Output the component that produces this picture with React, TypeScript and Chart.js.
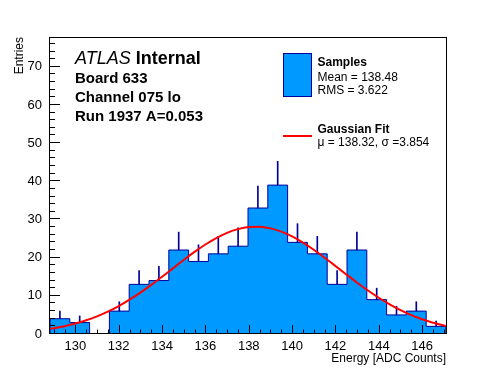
import React, { useEffect, useRef } from "react";
import { Chart, registerables } from "chart.js";

Chart.register(...registerables);

const FONT = "'Liberation Sans', Arial, Helvetica, sans-serif";

// Histogram definition (20 bins between xLow and xHigh)
const xLow = 128.83;
const xHigh = 147.1;
const nBins = 20;
const counts = [4, 3, 0, 6, 13, 14, 22, 19, 21, 23, 33, 39, 24, 21, 13, 22, 9, 5, 6, 2];

// Gaussian fit curve
const fitX = [
  128.83, 129, 129.5, 130, 130.5, 131, 131.5, 132, 132.5, 133, 133.5, 134, 134.5, 135, 135.5,
  136, 136.5, 137, 137.5, 138, 138.5, 139, 139.5, 140, 140.5, 141, 141.5, 142, 142.5, 143,
  143.5, 144, 144.5, 145, 145.5, 146, 146.5, 147, 147.1,
];
const fitY = [
  1.36, 1.51, 2.05, 2.73, 3.59, 4.63, 5.87, 7.32, 8.99, 10.84, 12.86, 14.99, 17.19, 19.39, 21.5,
  23.44, 25.14, 26.5, 27.47, 28.0, 28.07, 27.67, 26.81, 25.55, 23.95, 22.07, 19.99, 17.81, 15.6, 13.44,
  11.39, 9.49, 7.77, 6.26, 4.95, 3.86, 2.95, 2.22, 2.1,
];

// Axes
const yMax = 77.8;
const xMajorStep = 2;
const xMinorStep = 0.5;
const yMajorStep = 10;
const yMinorStep = 2;

// Texts
const xTitle = "Energy [ADC Counts]";
const yTitle = "Entries";
const atlasWord = "ATLAS";
const atlasStatus = "Internal";
const infoLines = ["Board 633", "Channel 075 lo", "Run 1937 A=0.053"];
const sampleTitle = "Samples";
const sampleStats = ["Mean = 138.48", "RMS = 3.622"];
const fitTitle = "Gaussian Fit";
const fitStats = "\u03bc = 138.32, \u03c3 =3.854";

const AZURE = "#0099ff";
const NAVY = "#000099";
const RED = "#ff0000";

const binWidth = (xHigh - xLow) / nBins;
const edges = Array.from({ length: nBins + 1 }, (_, i) => xLow + i * binWidth);

function histPoints() {
  const pts: { x: number; y: number }[] = [{ x: edges[0], y: 0 }];
  counts.forEach((c, i) => pts.push({ x: edges[i], y: c }));
  pts.push({ x: edges[nBins], y: counts[nBins - 1] });
  pts.push({ x: edges[nBins], y: 0 });
  return pts;
}

function errorBars() {
  const out: { x: number; y: [number, number] }[] = [];
  counts.forEach((c, i) => {
    if (c > 0) out.push({ x: edges[i] + binWidth / 2, y: [c, c + Math.sqrt(c)] });
  });
  return out;
}

const decorPlugin = {
  id: "rootDecor",
  afterDatasetsDraw(chart: any) {
    const { ctx, chartArea: a, scales } = chart;
    const xs = scales.x;
    const ys = scales.y;
    ctx.save();
    ctx.strokeStyle = "#000";
    ctx.lineWidth = 1;
    ctx.beginPath();
    // x ticks (inside frame)
    const kx0 = Math.ceil(xLow / xMinorStep - 1e-9);
    const kx1 = Math.floor(xHigh / xMinorStep + 1e-9);
    const perMajorX = Math.round(xMajorStep / xMinorStep);
    for (let k = kx0; k <= kx1; k++) {
      const v = k * xMinorStep;
      const px = Math.round(xs.getPixelForValue(v)) + 0.5;
      const len = k % perMajorX === 0 ? 9 : 4.5;
      ctx.moveTo(px, a.bottom);
      ctx.lineTo(px, a.bottom - len);
    }
    // y ticks
    const perMajorY = Math.round(yMajorStep / yMinorStep);
    for (let k = 0; k * yMinorStep <= yMax + 1e-9; k++) {
      const v = k * yMinorStep;
      const py = Math.round(ys.getPixelForValue(v)) - 0.5;
      const len = k % perMajorY === 0 ? 10 : 5;
      ctx.moveTo(a.left, py);
      ctx.lineTo(a.left + len, py);
    }
    ctx.stroke();
    // frame
    ctx.strokeRect(a.left - 0.5, a.top + 0.5, a.right - a.left + 1, a.bottom - a.top - 1);

    // ATLAS label
    ctx.fillStyle = "#000";
    ctx.textBaseline = "alphabetic";
    ctx.textAlign = "left";
    ctx.font = `italic 18px ${FONT}`;
    ctx.fillText(atlasWord, 75, 63.5);
    const w = ctx.measureText(atlasWord + " ").width;
    ctx.font = `bold 18px ${FONT}`;
    ctx.fillText(atlasStatus, 75 + w, 63.5);
    ctx.font = `bold 15px ${FONT}`;
    const infoBase = [82.5, 101.5, 120.5];
    infoLines.forEach((t, i) => ctx.fillText(t, 75, infoBase[i]));

    // Legend
    ctx.fillStyle = AZURE;
    ctx.fillRect(283.5, 53.5, 28, 43);
    ctx.strokeStyle = NAVY;
    ctx.strokeRect(283.5, 53.5, 28, 43);
    ctx.strokeStyle = RED;
    ctx.lineWidth = 2;
    ctx.beginPath();
    ctx.moveTo(283, 136);
    ctx.lineTo(312, 136);
    ctx.stroke();
    ctx.fillStyle = "#000";
    ctx.font = `bold 12px ${FONT}`;
    ctx.fillText(sampleTitle, 317.5, 65.5);
    ctx.fillText(fitTitle, 317.5, 133);
    ctx.font = `12px ${FONT}`;
    ctx.fillText(sampleStats[0], 317.5, 80.5);
    ctx.fillText(sampleStats[1], 317.5, 94);
    ctx.fillText(fitStats, 317.5, 145.5);
    ctx.restore();
  },
};

export default function App() {
  const ref = useRef<HTMLCanvasElement>(null);
  useEffect(() => {
    if (!ref.current) return;
    const chart = new Chart(ref.current, {
      type: "line",
      data: {
        datasets: [
          {
            type: "line",
            label: fitTitle,
            data: fitX.map((x, i) => ({ x, y: fitY[i] })),
            borderColor: RED,
            borderWidth: 2,
            pointRadius: 0,
            cubicInterpolationMode: "monotone",
            fill: false,
            order: 1,
          } as any,
          {
            type: "bar",
            label: "errors",
            data: errorBars(),
            backgroundColor: NAVY,
            borderWidth: 0,
            barThickness: 1,
            order: 2,
          } as any,
          {
            type: "line",
            label: sampleTitle,
            data: histPoints(),
            stepped: "before",
            borderColor: NAVY,
            borderWidth: 1,
            backgroundColor: AZURE,
            fill: "origin",
            pointRadius: 0,
            order: 3,
          } as any,
        ],
      },
      options: {
        animation: false,
        responsive: false,
        maintainAspectRatio: false,
        layout: { padding: { top: 37, right: 50, left: 0, bottom: 0 } },
        plugins: { legend: { display: false }, tooltip: { enabled: false } },
        scales: {
          x: {
            type: "linear",
            min: xLow,
            max: xHigh,
            offset: false,
            grid: { display: false, drawTicks: false },
            border: { display: false },
            ticks: {
              stepSize: xMajorStep,
              includeBounds: false,
              autoSkip: false,
              maxRotation: 0,
              padding: 5,
              color: "#000",
              font: { family: FONT, size: 13 },
              callback: (v: any) => String(v),
            },
            title: {
              display: true,
              text: xTitle,
              align: "end",
              color: "#000",
              padding: { top: 0, bottom: 6 },
              font: { family: FONT, size: 12 },
            },
            afterFit: (s: any) => {
              s.height = 38;
            },
          },
          y: {
            type: "linear",
            min: 0,
            max: yMax,
            grid: { display: false, drawTicks: false },
            border: { display: false },
            ticks: {
              stepSize: yMajorStep,
              includeBounds: false,
              padding: 8,
              color: "#000",
              font: { family: FONT, size: 13 },
            },
            title: {
              display: true,
              text: yTitle,
              align: "end",
              color: "#000",
              padding: { top: 12, bottom: 0 },
              font: { family: FONT, size: 12 },
            },
            afterFit: (s: any) => {
              s.width = 50;
            },
          },
        },
      } as any,
      plugins: [decorPlugin],
    });
    return () => chart.destroy();
  }, []);
  return (
    <div style={{ position: "fixed", left: 0, top: 0, width: 496, height: 372, background: "#fff" }}>
      <canvas ref={ref} width={496} height={372} style={{ display: "block", width: 496, height: 372 }} />
    </div>
  );
}
